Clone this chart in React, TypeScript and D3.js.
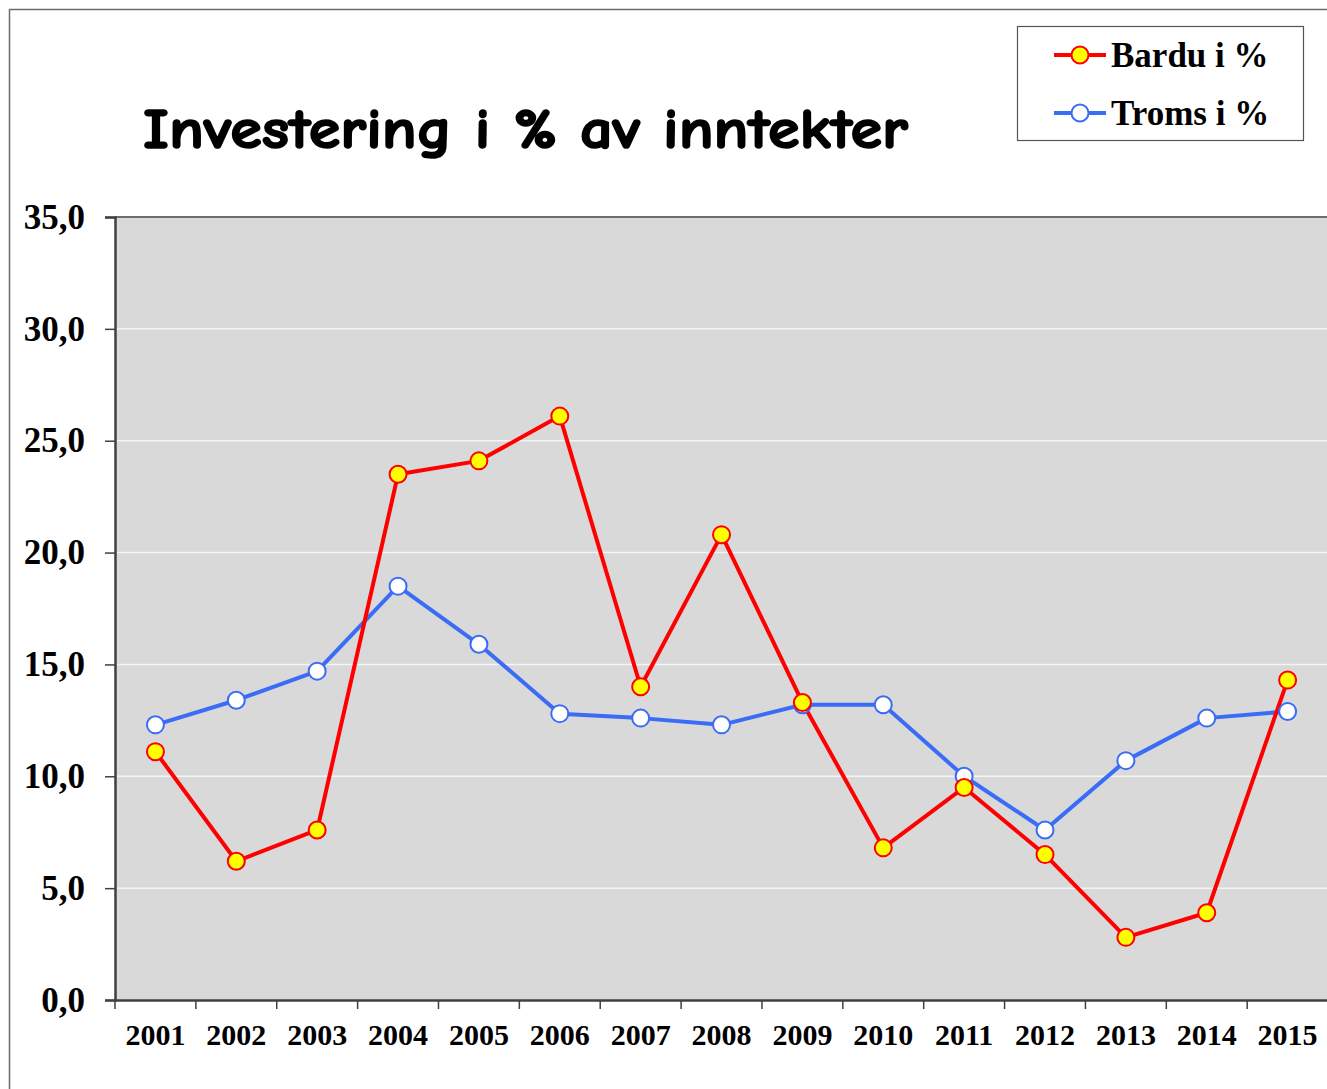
import React, { useRef, useEffect } from 'react';
import * as d3 from 'd3';

const years = ['2001', '2002', '2003', '2004', '2005', '2006', '2007', '2008', '2009', '2010', '2011', '2012', '2013', '2014', '2015'];
const bardu = [11.1, 6.2, 7.6, 23.5, 24.1, 26.1, 14.0, 20.8, 13.3, 6.8, 9.5, 6.5, 2.8, 3.9, 14.3];
const troms = [12.3, 13.4, 14.7, 18.5, 15.9, 12.8, 12.6, 12.3, 13.2, 13.2, 10.0, 7.6, 10.7, 12.6, 12.9];
const yTicks = [0, 5, 10, 15, 20, 25, 30, 35];
const title = 'Investering i % av inntekter';
const legendLabels = ['Bardu i %', 'Troms i %'];

const W = 1327;
const H = 1089;

const App = () => {
  const ref = useRef<SVGSVGElement | null>(null);

  useEffect(() => {
    if (!ref.current) return;
    const svg = d3.select(ref.current);
    svg.selectAll('*').remove();

    const left = 115, top = 217, bottom = 1000;
    const right = left + 15 * 80.87;

    // outer frame (only top/left visible)
    svg.append('rect')
      .attr('x', 9.5).attr('y', 9.5)
      .attr('width', W + 20).attr('height', H + 20)
      .attr('fill', '#fff').attr('stroke', '#6b6b6b').attr('stroke-width', 1.5);

    const x = d3.scaleBand().domain(years).range([left, right]);
    const y = d3.scaleLinear().domain([0, 35]).range([bottom, top]);
    const cx = (d: string) => (x(d) as number) + x.bandwidth() / 2;

    // plot area
    svg.append('rect')
      .attr('x', left).attr('y', top)
      .attr('width', right - left).attr('height', bottom - top)
      .attr('fill', '#d9d9d9');

    // gridlines
    svg.append('g')
      .selectAll('line')
      .data(yTicks.filter(t => t > 0 && t < 35))
      .enter().append('line')
      .attr('x1', left).attr('x2', right)
      .attr('y1', d => y(d)).attr('y2', d => y(d))
      .attr('stroke', '#f4f4f4').attr('stroke-width', 1.5);

    // top border
    svg.append('line')
      .attr('x1', left).attr('x2', right)
      .attr('y1', top).attr('y2', top)
      .attr('stroke', '#6f6f6f').attr('stroke-width', 2);

    // y axis
    const yAxis = svg.append('g')
      .attr('transform', `translate(${left},0)`)
      .call(d3.axisLeft(y).tickValues(yTicks).tickSize(10).tickPadding(20)
        .tickFormat(d => d3.format('.1f')(d as number).replace('.', ',')));
    yAxis.select('.domain').attr('stroke', '#404040').attr('stroke-width', 2.5);
    yAxis.selectAll('.tick line').attr('stroke', '#404040').attr('stroke-width', 1.5);
    yAxis.selectAll('text')
      .attr('font-family', '"Liberation Serif", "Times New Roman", serif')
      .attr('font-weight', 'bold').attr('font-size', 35).attr('fill', '#000');

    // x axis
    const xAxis = svg.append('g')
      .attr('transform', `translate(0,${bottom})`)
      .call(d3.axisBottom(x).tickSize(0).tickPadding(24));
    xAxis.select('.domain').attr('stroke', '#404040').attr('stroke-width', 2.5);
    xAxis.selectAll('text')
      .attr('font-family', '"Liberation Serif", "Times New Roman", serif')
      .attr('font-weight', 'bold').attr('font-size', 30).attr('fill', '#000');
    xAxis.selectAll('line.sep')
      .data(years)
      .enter().append('line')
      .attr('class', 'sep')
      .attr('x1', d => x(d) as number).attr('x2', d => x(d) as number)
      .attr('y1', 0).attr('y2', 9)
      .attr('stroke', '#404040').attr('stroke-width', 1.5);

    const line = d3.line<number>()
      .x((_, i) => cx(years[i]))
      .y(d => y(d));

    const series = [
      { data: troms, stroke: '#3a6cf6', fill: '#ffffff' },
      { data: bardu, stroke: '#ff0000', fill: '#ffff00' },
    ];

    // draw lines then markers
    series.forEach(s => {
      svg.append('path')
        .datum(s.data)
        .attr('fill', 'none')
        .attr('stroke', s.stroke)
        .attr('stroke-width', 4)
        .attr('stroke-linejoin', 'round')
        .attr('d', line);
    });
    series.forEach(s => {
      svg.append('g')
        .selectAll('circle')
        .data(s.data)
        .enter().append('circle')
        .attr('cx', (_, i) => cx(years[i]))
        .attr('cy', d => y(d))
        .attr('r', 8.5)
        .attr('fill', s.fill)
        .attr('stroke', s.stroke)
        .attr('stroke-width', 2);
    });

    // title
    svg.append('text')
      .attr('x', 143).attr('y', 148)
      .attr('font-family', '"Comic Sans MS", "Comic Neue", Lato, sans-serif')
      .attr('font-weight', 'bold').attr('font-size', 56)
      .attr('textLength', 765).attr('lengthAdjust', 'spacingAndGlyphs')
      .attr('fill', '#000').attr('stroke', '#000').attr('stroke-width', 1.6)
      .attr('stroke-linejoin', 'round')
      .text(title);

    // legend
    const lg = svg.append('g');
    lg.append('rect')
      .attr('x', 1017.5).attr('y', 26.5).attr('width', 286).attr('height', 114)
      .attr('fill', '#fff').attr('stroke', '#555').attr('stroke-width', 1.2);
    const legendSeries = [series[1], series[0]];
    legendSeries.forEach((s, i) => {
      const ly = 55 + i * 58;
      lg.append('line')
        .attr('x1', 1054).attr('x2', 1106).attr('y1', ly).attr('y2', ly)
        .attr('stroke', s.stroke).attr('stroke-width', 4);
      lg.append('circle')
        .attr('cx', 1080).attr('cy', ly).attr('r', 8.5)
        .attr('fill', s.fill).attr('stroke', s.stroke).attr('stroke-width', 2);
      lg.append('text')
        .attr('x', 1111).attr('y', ly + 12)
        .attr('font-family', '"Liberation Serif", "Times New Roman", serif')
        .attr('font-weight', 'bold').attr('font-size', 35).attr('fill', '#000')
        .text(legendLabels[i]);
    });
  }, []);

  return (
    <svg
      ref={ref}
      width={W}
      height={H}
      style={{ position: 'absolute', left: 0, top: 0, background: '#fff' }}
    />
  );
};

export default App;
